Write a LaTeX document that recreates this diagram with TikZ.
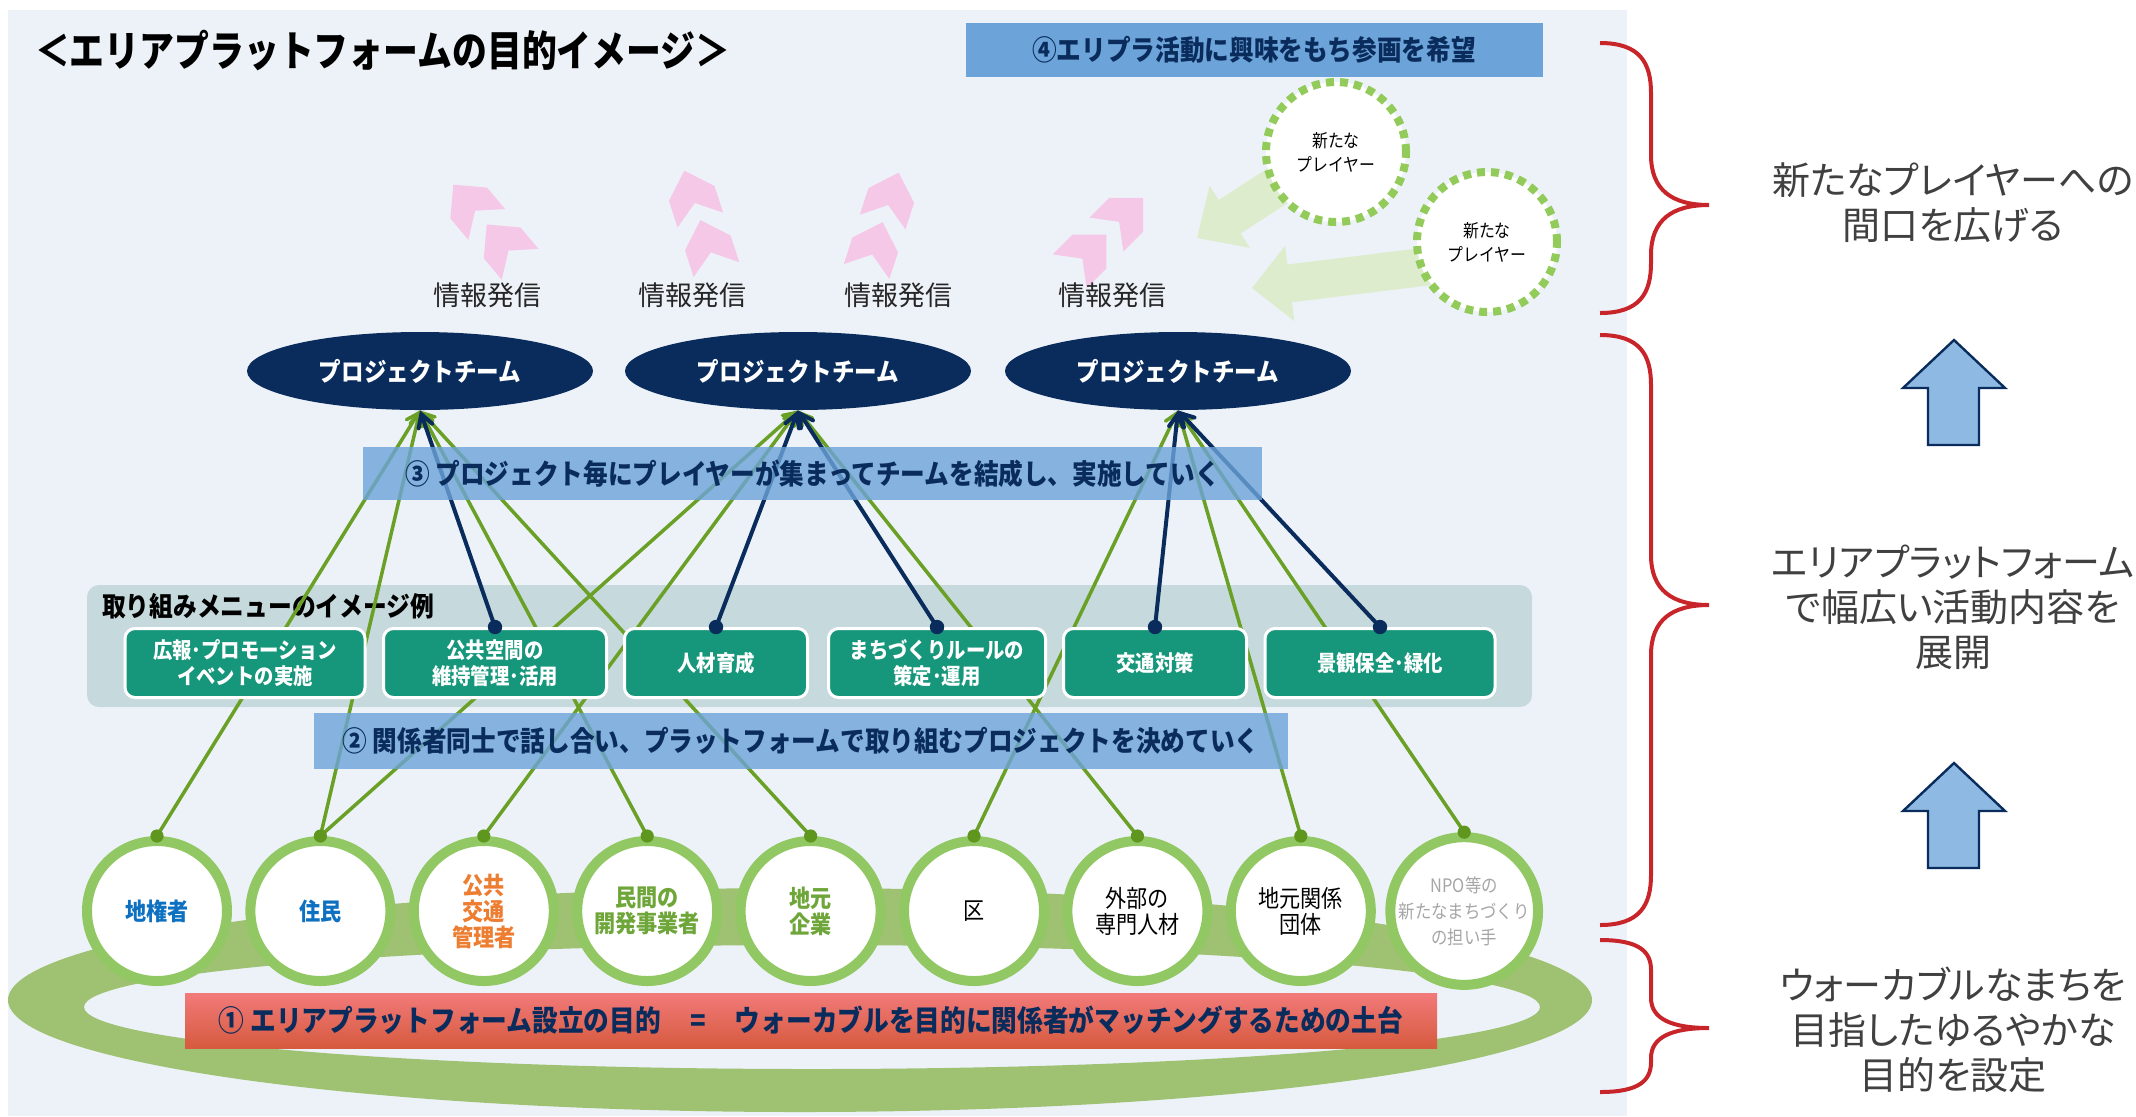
\documentclass[tikz,border=0pt]{standalone}
\usepackage{fontspec}
\setmainfont{Noto Sans CJK JP}
\newfontfamily\condfont{Noto Sans CJK JP}[FakeStretch=0.88]
\newfontfamily\titlefont{Noto Sans CJK JP}[FakeStretch=0.83]
\newfontfamily\sidefont{Noto Sans CJK JP}[RawFeature=+palt]
\usepackage{color}
\usetikzlibrary{calc}
\usetikzlibrary{arrows}
\usetikzlibrary{shapes.geometric,positioning}

\definecolor{panelbg}{RGB}{237,242,249}
\definecolor{navy}{RGB}{10,44,92}
\definecolor{bandblue}{RGB}{108,163,216}
\definecolor{menubg}{RGB}{198,217,220}
\definecolor{menuteal}{RGB}{22,150,122}
\definecolor{linkgreen}{RGB}{106,160,38}
\definecolor{dotgreen}{RGB}{94,150,30}
\definecolor{ringgreen}{RGB}{158,193,114}
\definecolor{circgreen}{RGB}{146,200,100}
\definecolor{dashgreen}{RGB}{146,203,90}
\definecolor{softgreen}{RGB}{222,236,206}
\definecolor{softpink}{RGB}{245,200,232}
\definecolor{bracered}{RGB}{200,37,43}
\definecolor{arrowblue}{RGB}{141,185,226}
\definecolor{sidegray}{RGB}{64,64,64}
\definecolor{stblue}{RGB}{14,112,192}
\definecolor{storange}{RGB}{237,125,49}
\definecolor{stgreen}{RGB}{110,166,58}
\definecolor{stgray}{RGB}{166,166,166}
\definecolor{redtop}{RGB}{242,122,122}
\definecolor{redbot}{RGB}{214,90,62}

\tikzset{
  band/.style={rectangle, inner sep=0pt, text=navy,
    font=\condfont\bfseries\fontsize{14}{16}\selectfont},
  team/.style={ellipse, fill=navy, minimum width=173pt, minimum height=39pt,
    inner sep=0pt, text=white, font=\condfont\bfseries\fontsize{12.8}{15}\selectfont},
  menubox/.style={rectangle, rounded corners=5pt, fill=menuteal, draw=white,
    line width=1.5pt, minimum height=34.5pt, inner sep=0pt, align=center,
    text=white, font=\condfont\bfseries\fontsize{11}{13}\selectfont},
  stake/.style={circle, fill=white, draw=circgreen, line width=5pt,
    minimum size=70pt, inner sep=0pt, align=center},
  player/.style={circle, fill=white, draw=dashgreen, line width=4pt,
    dash pattern=on 4pt off 3pt, minimum size=70pt, inner sep=0pt,
    align=center, font=\condfont\fontsize{9}{12}\selectfont},
  txtblue/.style={text=stblue, font=\condfont\bfseries\fontsize{12}{13}\selectfont},
  txtorange/.style={text=storange, font=\condfont\bfseries\fontsize{12}{13}\selectfont},
  txtgreen/.style={text=stgreen, font=\condfont\bfseries\fontsize{12}{13}\selectfont},
  txtplain/.style={text=black, font=\condfont\fontsize{12}{13}\selectfont},
  txtgray/.style={text=stgray, font=\condfont\fontsize{9.3}{13}\selectfont},
  greenlink/.style={draw=linkgreen, line width=1.75pt, ->},
  navylink/.style={draw=navy, line width=2pt, ->},
  sidetext/.style={align=center, text=sidegray, font=\sidefont\fontsize{19}{22.5}\selectfont},
}

\begin{document}
\begin{tikzpicture}[x=0.5pt,y=-0.5pt,>=angle 60]
  \useasboundingbox (0,0) rectangle (2136,1116);
  \fill[white] (0,0) rectangle (2136,1116);
  \fill[panelbg] (8,10) rectangle (1627,1116);

  %% title
  \node[anchor=west, font=\titlefont\bfseries\fontsize{21}{25}\selectfont] (title) at (28,50)
    {＜エリアプラットフォームの目的イメージ＞};

  %% step 4
  \node[band, fill=bandblue, minimum width=288.5pt, minimum height=27pt] (band4) at (1254,50)
    {④エリプラ活動に興味をもち参画を希望};

  %% arrows from new players
  \begin{scope}[shift={(1197,238)}, rotate=33]
    \fill[softgreen] (0,0) -- (39,-37) -- (39,-20) -- (135,-20) -- (135,20) -- (39,20) -- (39,37) -- cycle;
  \end{scope}
  \begin{scope}[shift={(1252,288)}, rotate=7]
    \fill[softgreen] (0,0) -- (38,-38) -- (38,-19) -- (190,-19) -- (190,19) -- (38,19) -- (38,38) -- cycle;
  \end{scope}
  \node[player] (np1) at (1336,152) {新たな\\プレイヤー};
  \node[player] (np2) at (1487,242) {新たな\\プレイヤー};

  %% pink double arrows
  \foreach \cx/\cy/\ang in {488/226/40, 701/222/18, 882/224/-18, 1105/236/-45}{
    \begin{scope}[shift={(\cx,\cy)}, rotate=\ang]
      \foreach \off in {-26,26}
        \fill[softpink] (0,\off-28) -- (24,\off-4) -- (24,\off+24) -- (0,\off+6) -- (-24,\off+24) -- (-24,\off-4) -- cycle;
    \end{scope}
  }
  \foreach \x [count=\k] in {487,692,898,1112}
    \node[text={rgb,255:red,38;green,38;blue,38}, font=\fontsize{13.5}{16}\selectfont] (info\k) at (\x,295) {情報発信};

  %% project teams
  \node[team] (pt1) at (420,371) {プロジェクトチーム};
  \node[team] (pt2) at (798,371) {プロジェクトチーム};
  \node[team] (pt3) at (1178,371) {プロジェクトチーム};

  %% menu panel
  \fill[menubg, rounded corners=6pt] (87,585) rectangle (1532,707);
  \node[anchor=west, font=\condfont\bfseries\fontsize{13.5}{16}\selectfont] (menulbl) at (95,606)
    {取り組みメニューのイメージ例};

  %% ring and players
  \fill[ringgreen, even odd rule] (800,1000) ellipse [x radius=792, y radius=112]
    (812,1007) ellipse [x radius=728, y radius=62];
  \foreach \i/\txt/\sty in {1/{地権者}/txtblue, 2/{住民}/txtblue, 3/{公共\\交通\\管理者}/txtorange,
      4/{民間の\\開発事業者}/txtgreen, 5/{地元\\企業}/txtgreen, 6/{区}/txtplain,
      7/{外部の\\専門人材}/txtplain, 8/{地元関係\\団体}/txtplain,
      9/{NPO等の\\新たなまちづくり\\の担い手}/txtgray}
    \node[stake,\sty] (s\i) at ({157+163.4*(\i-1)},911) {\txt};

  %% step 1
  \node[band, top color=redtop, bottom color=redbot, minimum width=626pt, minimum height=27.5pt,
    font=\condfont\bfseries\fontsize{14.6}{17}\selectfont] (band1) at (811,1020.5)
    {① エリアプラットフォーム設立の目的\quad =\quad ウォーカブルを目的に関係者がマッチングするための土台};

  %% players -> teams
  \foreach \s/\p in {1/1,2/1,4/1,5/1,2/2,3/2,7/2,6/3,8/3,9/3}
    \draw[greenlink] (s\s.north) -- (pt\p.south);
  \foreach \i in {1,...,9}
    \fill[dotgreen] (s\i.north) circle[radius=3.3pt];

  %% menu boxes
  \node[menubox, minimum width=120pt] (b1) at (245,663) {広報･プロモーション\\イベントの実施};
  \node[menubox, minimum width=111.5pt] (b2) at (495,663) {公共空間の\\維持管理･活用};
  \node[menubox, minimum width=91.5pt] (b3) at (716,663) {人材育成};
  \node[menubox, minimum width=108.5pt] (b4) at (937,663) {まちづくりルールの\\策定･運用};
  \node[menubox, minimum width=91.5pt] (b5) at (1155,663) {交通対策};
  \node[menubox, minimum width=115pt] (b6) at (1380,663) {景観保全･緑化};

  %% menus -> teams
  \foreach \b/\p in {2/1,3/2,4/2,5/3,6/3}{
    \draw[navylink] (b\b.north) -- (pt\p.south);
    \fill[navy] (b\b.north) circle[radius=3.6pt];
  }

  %% steps 3 and 2
  \node[band, fill=bandblue, fill opacity=0.8, text opacity=1, minimum width=449.5pt, minimum height=26.5pt]
    (band3) at (812.5,473.5) {③ プロジェクト毎にプレイヤーが集まってチームを結成し、実施していく};
  \node[band, fill=bandblue, fill opacity=0.8, text opacity=1, minimum width=487pt, minimum height=28pt]
    (band2) at (801,741) {② 関係者同士で話し合い、プラットフォームで取り組むプロジェクトを決めていく};

  %% braces
  \foreach \ya/\ym/\yb/\r in {43/205/313/50, 335/605/925/50, 940/1028/1092/30}
    \draw[bracered, line width=2pt] (1600,\ya) .. controls (1640,\ya) and (1651,\ya+\r*0.4) .. (1651,\ya+\r)
      -- (1651,\ym-\r) .. controls (1651,\ym-\r*0.3) and (1672,\ym) .. (1709,\ym)
      .. controls (1672,\ym) and (1651,\ym+\r*0.3) .. (1651,\ym+\r)
      -- (1651,\yb-\r) .. controls (1651,\yb-\r*0.4) and (1640,\yb) .. (1600,\yb);

  %% right column
  \node[sidetext] (side1) at (1953,203) {新たなプレイヤーへの\\間口を広げる};
  \node[sidetext] (side2) at (1953,607) {エリアプラットフォーム\\で幅広い活動内容を\\展開};
  \node[sidetext] (side3) at (1953,1030) {ウォーカブルなまちを\\目指したゆるやかな\\目的を設定};
  \foreach \yt in {340,763}
    \filldraw[fill=arrowblue, draw=navy, line width=1.2pt] (1954,\yt) -- (2005,\yt+48) -- (1979,\yt+48)
      -- (1979,\yt+105) -- (1928,\yt+105) -- (1928,\yt+48) -- (1903,\yt+48) -- cycle;
\end{tikzpicture}
\end{document}
